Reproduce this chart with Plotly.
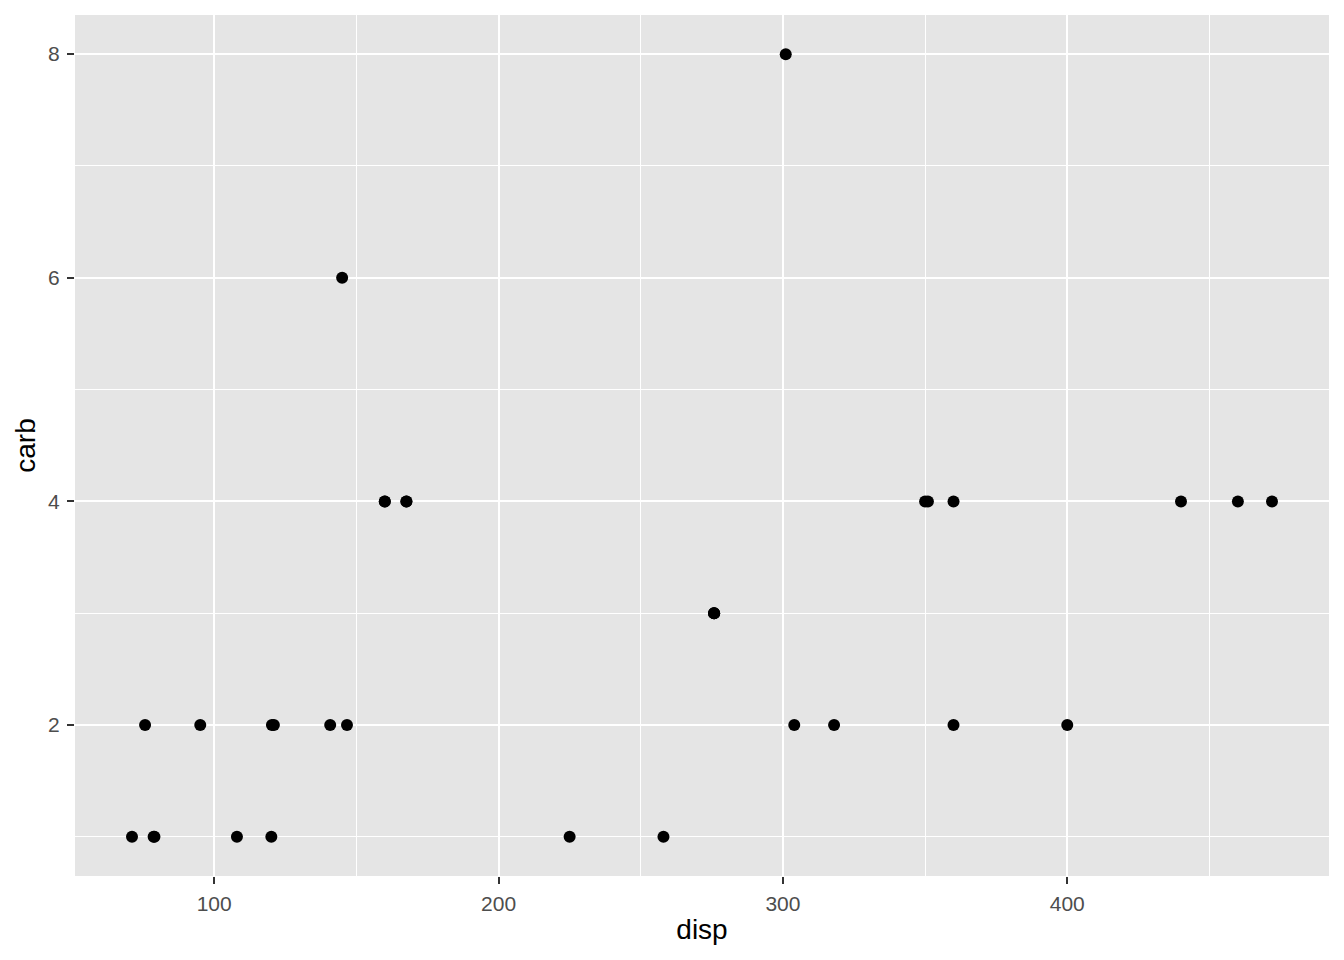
import plotly.graph_objects as go

disp = [160, 160, 108, 258, 360, 225, 360, 146.7, 140.8, 167.6, 167.6, 275.8, 275.8, 275.8,
        472, 460, 440, 78.7, 75.7, 71.1, 120.1, 318, 304, 350, 400, 79, 120.3, 95.1, 351, 145, 301, 121]
carb = [4, 4, 1, 1, 2, 1, 4, 2, 2, 4, 4, 3, 3, 3, 4, 4, 4, 1, 2, 1, 1, 2, 2, 4, 2, 1, 2, 2, 4, 6, 8, 2]

x_ticks = [100, 200, 300, 400]
y_ticks = [2, 4, 6, 8]

fig = go.Figure(go.Scatter(x=disp, y=carb, mode="markers",
                           marker=dict(color="black", size=12, line=dict(width=0))))

xr = max(disp) - min(disp)
yr = max(carb) - min(carb)

FONT = "Liberation Sans, Arial, sans-serif"

axis_common = dict(
    showgrid=True, gridcolor="white", gridwidth=2.4, zeroline=False,
    ticks="outside", ticklen=7, tickwidth=2, tickcolor="#333333",
    tickfont=dict(family=FONT, size=21, color="#4D4D4D"),
    showline=False,
)

fig.update_layout(
    width=1328, height=944,
    margin=dict(l=67, r=7, t=7, b=76),
    paper_bgcolor="white", plot_bgcolor="#E5E5E5",
    showlegend=False,
    font=dict(family=FONT),
    xaxis=dict(**axis_common,
               range=[min(disp) - 0.05 * xr, max(disp) + 0.05 * xr],
               tickvals=x_ticks, ticktext=[str(v) for v in x_ticks],
               ticklabelstandoff=2,
               minor=dict(dtick=50, tick0=0, showgrid=True, gridcolor="white", gridwidth=1.2, ticks=""),
               title=dict(text="disp", font=dict(size=28, color="black"), standoff=5)),
    yaxis=dict(**axis_common,
               range=[min(carb) - 0.05 * yr, max(carb) + 0.05 * yr],
               tickvals=y_ticks, ticktext=[str(v) for v in y_ticks],
               ticklabelstandoff=3,
               minor=dict(dtick=1, tick0=0, showgrid=True, gridcolor="white", gridwidth=1.2, ticks=""),
               title=dict(text="carb", font=dict(size=28, color="black"), standoff=4)),
)

fig.write_html("out.html")
